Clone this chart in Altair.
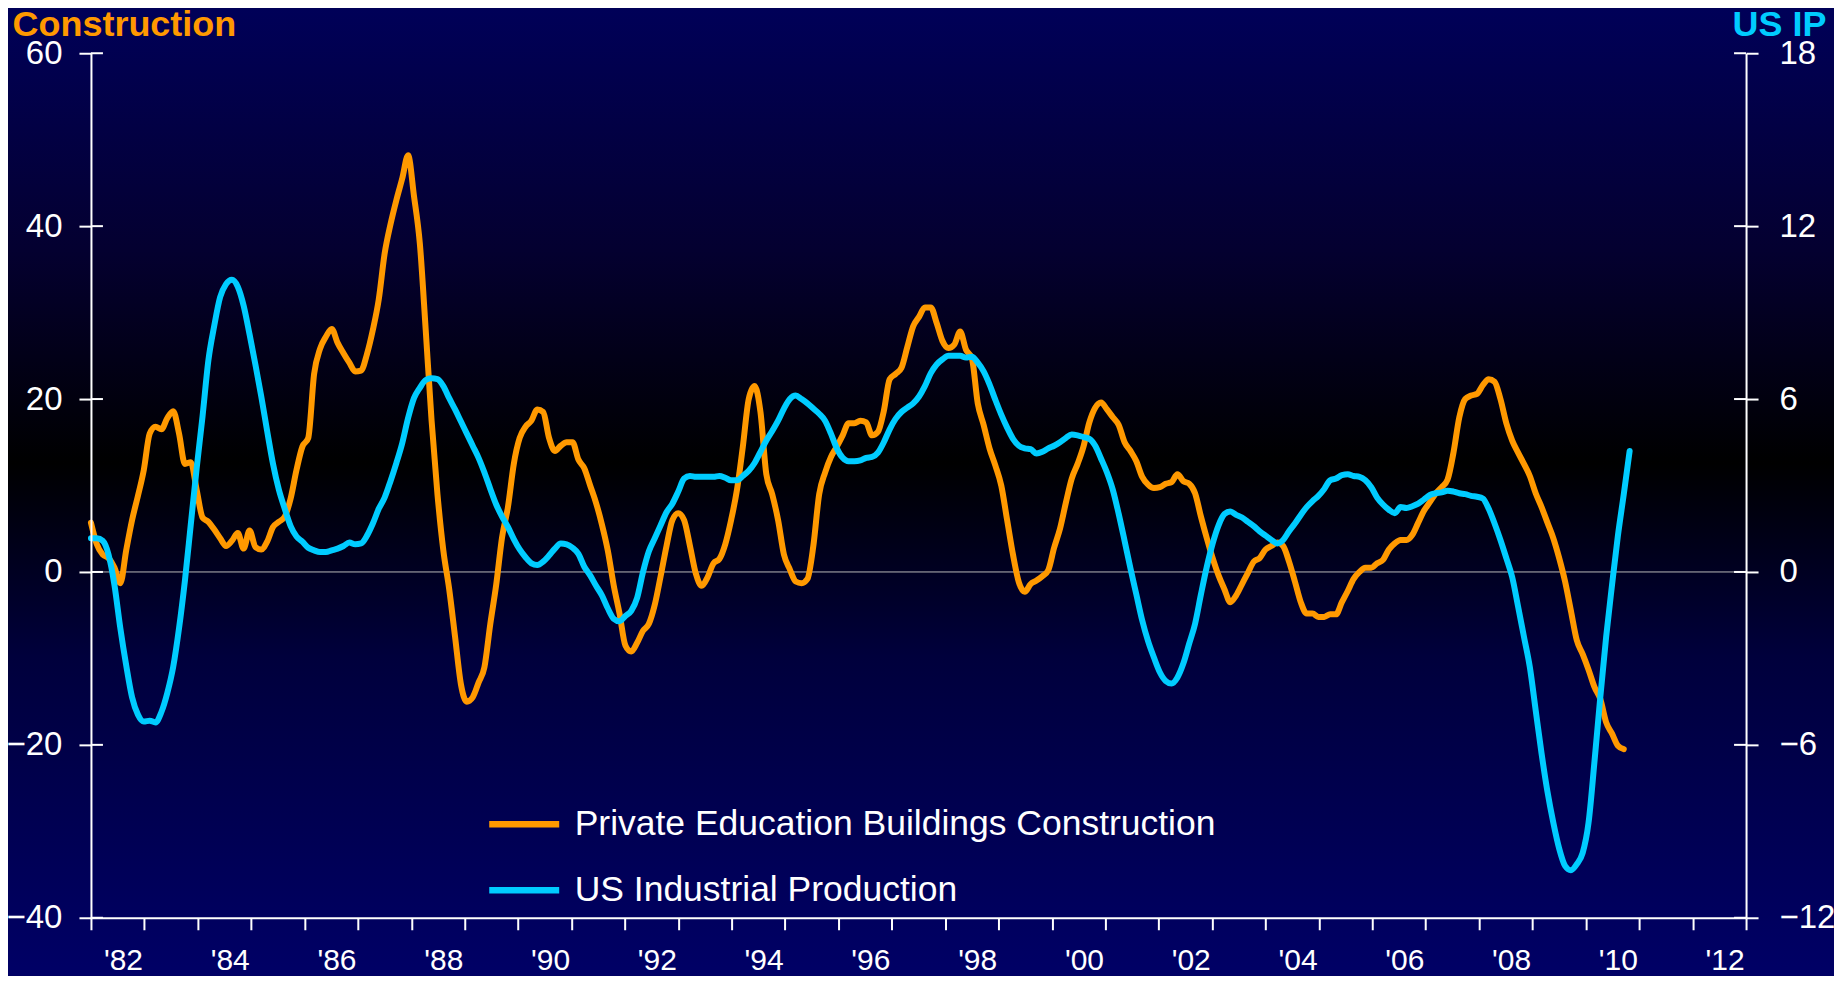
import altair as alt
import pandas as pd

# ---- data (one reading every ~0.11 year from Jan 1982) ----
construction = [
    5.7, 3.2, 2.0, 1.6, 0.5, -1.3, 2.5, 6.0, 8.8, 11.8,
    16.0, 16.8, 16.5, 17.8, 18.6, 16.0, 12.5, 12.7, 9.5, 6.3,
    5.8, 4.9, 3.9, 3.0, 3.6, 4.5, 2.7, 4.8, 2.9, 2.6,
    3.5, 5.2, 5.8, 6.4, 8.5, 11.8, 14.5, 15.5, 22.9, 25.8,
    27.2, 28.1, 26.5, 25.3, 24.2, 23.2, 23.3, 25.2, 28.0, 31.5,
    36.8, 40.2, 43.0, 45.5, 48.2, 43.5, 38.0, 28.0, 17.5, 9.0,
    2.5, -2.0, -7.5, -13.0, -15.0, -14.5, -12.8, -11.0, -6.0, -1.5,
    4.0, 7.5, 12.5, 15.5, 16.8, 17.5, 18.8, 18.5, 15.5, 14.0,
    14.6, 15.0, 15.0, 13.0, 12.0, 10.0, 8.0, 5.5, 2.5, -1.5,
    -4.8, -8.5, -9.2, -8.2, -6.8, -6.0, -3.8, -0.5, 3.0, 6.0,
    6.8, 6.0, 3.0, -0.2, -1.6, -0.6, 1.0, 1.5, 3.2, 6.0,
    9.5, 14.5, 20.0, 21.5, 18.5, 11.3, 9.0, 6.0, 2.0, 0.3,
    -1.1, -1.3, -0.8, 3.0, 9.0, 11.5, 13.3, 14.5, 15.8, 17.2,
    17.2, 17.5, 17.3, 15.8, 16.2, 18.6, 22.3, 22.9, 23.6, 26.0,
    28.4, 29.5, 30.6, 30.6, 28.8, 26.7, 25.9, 26.3, 27.8, 25.7,
    24.7, 19.5, 17.0, 14.3, 12.3, 10.0, 6.0, 2.0, -1.2, -2.3,
    -1.4, -1.0, -0.5, 0.2, 2.8, 5.0, 8.0, 10.8, 12.5, 14.5,
    17.3, 19.0, 19.6, 18.8, 17.9, 17.0, 15.0, 14.0, 12.8, 11.0,
    10.1, 9.7, 9.8, 10.2, 10.4, 11.3, 10.5, 10.2, 9.1, 6.4,
    3.9, 1.6, -0.4, -2.0, -3.5, -2.7, -1.4, -0.1, 1.2, 1.6,
    2.6, 3.0, 3.4, 3.0, 1.2, -1.1, -3.5, -4.8, -4.8, -5.2,
    -5.2, -4.9, -4.9, -3.5, -2.2, -0.8, 0.0, 0.5, 0.5, 1.0,
    1.4, 2.6, 3.3, 3.7, 3.7, 4.3, 5.7, 7.1, 8.1, 9.1,
    9.8, 10.7, 13.8, 17.9, 20.0, 20.4, 20.6, 21.6, 22.3, 22.0,
    20.0, 17.2, 15.2, 13.8, 12.5, 11.1, 9.1, 7.5, 5.7, 3.9,
    1.6, -1.1, -4.5, -7.9, -9.5, -11.3, -13.3, -14.7, -17.4, -18.7,
    -20.1, -20.5,
]

us_ip = [
    1.17, 1.17, 1.08, 0.60, -0.45, -1.95, -3.24, -4.35, -4.95, -5.19,
    -5.16, -5.22, -4.86, -4.20, -3.30, -1.95, -0.30, 1.65, 3.60, 5.40,
    7.35, 8.55, 9.54, 9.99, 10.14, 9.90, 9.24, 8.25, 7.20, 6.09,
    4.89, 3.75, 2.85, 2.19, 1.59, 1.23, 1.05, 0.84, 0.75, 0.69,
    0.69, 0.75, 0.81, 0.90, 1.02, 0.96, 0.99, 1.26, 1.68, 2.19,
    2.58, 3.15, 3.78, 4.47, 5.34, 6.03, 6.39, 6.66, 6.72, 6.69,
    6.45, 6.03, 5.64, 5.22, 4.80, 4.38, 3.96, 3.45, 2.88, 2.34,
    1.92, 1.56, 1.14, 0.78, 0.51, 0.30, 0.24, 0.36, 0.57, 0.81,
    0.99, 0.96, 0.84, 0.63, 0.18, -0.12, -0.48, -0.81, -1.26, -1.62,
    -1.71, -1.53, -1.35, -0.90, 0.00, 0.72, 1.17, 1.62, 2.07, 2.37,
    2.79, 3.24, 3.33, 3.30, 3.30, 3.30, 3.30, 3.33, 3.27, 3.18,
    3.18, 3.33, 3.51, 3.78, 4.17, 4.56, 4.89, 5.25, 5.67, 6.00,
    6.12, 6.00, 5.85, 5.67, 5.49, 5.25, 4.80, 4.29, 3.96, 3.84,
    3.84, 3.87, 3.96, 3.99, 4.14, 4.50, 4.95, 5.31, 5.55, 5.70,
    5.85, 6.09, 6.45, 6.90, 7.20, 7.38, 7.50, 7.50, 7.50, 7.44,
    7.47, 7.26, 6.96, 6.51, 5.97, 5.46, 5.01, 4.62, 4.38, 4.29,
    4.26, 4.11, 4.17, 4.29, 4.38, 4.50, 4.65, 4.77, 4.74, 4.68,
    4.62, 4.38, 3.93, 3.45, 2.85, 2.01, 1.08, 0.12, -0.78, -1.68,
    -2.40, -2.97, -3.48, -3.78, -3.87, -3.66, -3.18, -2.49, -1.80, -0.78,
    0.18, 0.99, 1.62, 2.01, 2.10, 1.98, 1.89, 1.74, 1.59, 1.41,
    1.26, 1.11, 0.99, 1.11, 1.41, 1.68, 1.98, 2.25, 2.46, 2.64,
    2.88, 3.18, 3.24, 3.36, 3.39, 3.33, 3.30, 3.18, 2.94, 2.58,
    2.34, 2.16, 2.04, 2.25, 2.22, 2.28, 2.37, 2.52, 2.67, 2.73,
    2.76, 2.82, 2.79, 2.73, 2.70, 2.64, 2.61, 2.55, 2.19, 1.68,
    1.11, 0.48, -0.18, -1.20, -2.25, -3.30, -4.80, -6.30, -7.62, -8.70,
    -9.60, -10.20, -10.35, -10.14, -9.75, -8.70, -6.60, -4.35, -2.25, -0.45,
    1.26, 2.70, 4.20,
]

first_year = 1982.0
years_per_reading = 0.11

x_tick_years = list(range(1982, 2014))
left_ticks = [-40, -20, 0, 20, 40, 60]
right_ticks = [-12, -6, 0, 6, 12, 18]
series_names = ["Private Education Buildings Construction", "US Industrial Production"]
series_colors = ["#FF9900", "#00CCFF"]
left_title = "Construction"
right_title = "US IP"

# ---- layout ----
W, H = 1656, 865
PAD = {"left": 83, "top": 45, "right": 88, "bottom": 58}
FONT = "Liberation Sans, Arial, sans-serif"

df_c = pd.DataFrame({
    "year": [first_year + i * years_per_reading for i in range(len(construction))],
    "value": construction,
    "series": series_names[0],
})
df_ip = pd.DataFrame({
    "year": [first_year + i * years_per_reading for i in range(len(us_ip))],
    "value": us_ip,
    "series": series_names[1],
})

x_scale = alt.Scale(domain=[1982, 2013], nice=False, zero=False)
left_scale = alt.Scale(domain=[-40, 60], nice=False, zero=False)
right_scale = alt.Scale(domain=[-12, 18], nice=False, zero=False)
color_scale = alt.Scale(domain=series_names, range=series_colors)

x_axis = alt.Axis(
    values=x_tick_years,
    labelExpr="datum.value % 2 == 0 ? \"'\" + slice(toString(datum.value), 2) : ''",
    title=None, grid=False, zindex=1,
    domainColor="white", domainWidth=2,
    tickColor="white", tickWidth=2, tickSize=12,
    labelColor="white", labelFont=FONT, labelFontSize=30,
    labelPadding=16, labelOffset=32, labelOverlap=False, labelFlush=False,
    labelBound=False,
)

left_axis = alt.Axis(
    values=left_ticks, grid=False, zindex=1,
    domainColor="white", domainWidth=2,
    tickColor="white", tickWidth=2, tickSize=12,
    labelColor="white", labelFont=FONT, labelFontSize=33, labelPadding=17,
    title=left_title, titleAngle=0, titleAlign="left", titleBaseline="alphabetic",
    titleX=-79, titleY=-18, titleColor=series_colors[0], titleFont=FONT,
    titleFontSize=36, titleFontWeight="bold",
)

right_axis = alt.Axis(
    values=right_ticks, orient="right", grid=False, zindex=1,
    domainColor="white", domainWidth=2,
    tickColor="white", tickWidth=2, tickSize=12,
    labelColor="white", labelFont=FONT, labelFontSize=33, labelPadding=21,
    title=right_title, titleAngle=0, titleAlign="right", titleBaseline="alphabetic",
    titleX=80, titleY=-18, titleColor=series_colors[1], titleFont=FONT,
    titleFontSize=36, titleFontWeight="bold",
)

legend = alt.Legend(
    orient="none", legendX=395, legendY=733, direction="vertical", title=None,
    symbolType="stroke", symbolSize=4900, symbolStrokeWidth=6.5, symbolOpacity=1,
    labelFont=FONT, labelFontSize=35.5, labelColor="white", labelOffset=12,
    labelLimit=2000, rowPadding=9, padding=0,
)

gradient = alt.LinearGradient(
    gradient="linear",
    stops=[
        alt.GradientStop(color="#000058", offset=0),
        alt.GradientStop(color="#040030", offset=0.25),
        alt.GradientStop(color="#000000", offset=0.47),
        alt.GradientStop(color="#00003c", offset=0.67),
        alt.GradientStop(color="#000066", offset=1),
    ],
    x1=0, x2=0, y1=0, y2=1,
)

bg = alt.Chart(pd.DataFrame({"a": [0]})).mark_rect(fill=gradient).encode(
    x=alt.value(-PAD["left"]), x2=alt.value(W + PAD["right"]),
    y=alt.value(-PAD["top"]), y2=alt.value(H + PAD["bottom"]),
)

zero_rule = alt.Chart(pd.DataFrame({"z": [0]})).mark_rule(color="#b8b8b8", strokeWidth=1).encode(
    y=alt.Y("z:Q", scale=left_scale, axis=left_axis),
    x=alt.value(0), x2=alt.value(W),
)

left_inner = alt.Chart(pd.DataFrame({"t": left_ticks})).mark_rule(color="white", strokeWidth=2).encode(
    y=alt.Y("t:Q", scale=left_scale, axis=left_axis),
    x=alt.value(0), x2=alt.value(12),
)

right_inner = alt.Chart(pd.DataFrame({"t": right_ticks})).mark_rule(color="white", strokeWidth=2).encode(
    y=alt.Y("t:Q", scale=right_scale, axis=right_axis),
    x=alt.value(W - 12), x2=alt.value(W),
)

line_kw = dict(strokeWidth=6, strokeCap="round", strokeJoin="round", interpolate="monotone")

orange = alt.Chart(df_c).mark_line(**line_kw).encode(
    x=alt.X("year:Q", scale=x_scale, axis=x_axis),
    y=alt.Y("value:Q", scale=left_scale, axis=left_axis),
    color=alt.Color("series:N", scale=color_scale, legend=legend),
)

cyan = alt.Chart(df_ip).mark_line(**line_kw).encode(
    x=alt.X("year:Q", scale=x_scale, axis=x_axis),
    y=alt.Y("value:Q", scale=right_scale, axis=right_axis),
    color=alt.Color("series:N", scale=color_scale, legend=legend),
)

left_layer = alt.layer(bg, zero_rule, left_inner, orange)
right_layer = alt.layer(right_inner, cyan)

chart = (
    alt.layer(left_layer, right_layer)
    .resolve_scale(y="independent")
    .properties(
        width=W, height=H, padding=PAD,
        autosize=alt.AutoSizeParams(type="none"),
        background="#000055",
    )
    .configure_view(stroke=None)
)

chart.save("out.html", embed_options={"renderer": "svg", "actions": False})
